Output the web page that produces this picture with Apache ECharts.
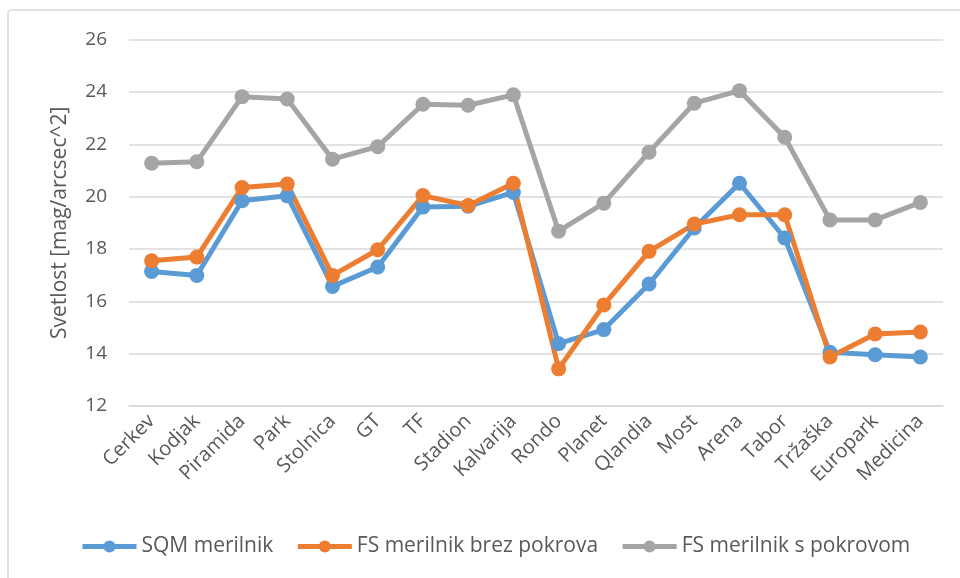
<!DOCTYPE html>
<html>
<head>
<meta charset="utf-8">
<script src="https://cdn.jsdelivr.net/npm/echarts@6/dist/echarts.min.js"></script>
<style>
  html, body { margin: 0; padding: 0; background: #fff; }
  #chart { width: 960px; height: 578px; }
</style>
</head>
<body>
<div id="chart"></div>
<script>
const locations = ["Cerkev", "Kodjak", "Piramida", "Park", "Stolnica", "GT", "TF", "Stadion", "Kalvarija",
  "Rondo", "Planet", "Qlandia", "Most", "Arena", "Tabor", "Tržaška", "Europark", "Medicina"];

const sqm = [17.14, 16.99, 19.84, 20.03, 16.57, 17.31, 19.60, 19.63, 20.16,
  14.38, 14.92, 16.66, 18.80, 20.51, 18.42, 14.05, 13.96, 13.87];
const fsNoCover = [17.55, 17.69, 20.35, 20.48, 16.99, 17.97, 20.04, 19.66, 20.51,
  13.42, 15.86, 17.91, 18.95, 19.31, 19.31, 13.87, 14.75, 14.83];
const fsCover = [21.28, 21.33, 23.82, 23.73, 21.43, 21.91, 23.53, 23.49, 23.89,
  18.68, 19.75, 21.70, 23.57, 24.05, 22.27, 19.11, 19.11, 19.78];

const seriesNames = ["SQM merilnik", "FS merilnik brez pokrova", "FS merilnik s pokrovom"];
const colors = ["#5B9BD5", "#ED7D31", "#A5A5A5"];

const font = "'Open Sans', 'Liberation Sans', sans-serif";
const textColor = "#595959";

const chart = echarts.init(document.querySelector("#chart"), null, { renderer: "canvas" });

function lineSeries(name, data) {
  return {
    name,
    type: "line",
    data,
    symbol: "circle",
    symbolSize: 15,
    lineStyle: { width: 5 },
    emphasis: { disabled: true },
  };
}

chart.setOption({
  animation: false,
  color: colors,
  textStyle: { fontFamily: font },
  graphic: [
    {
      type: "rect",
      shape: { x: 8, y: 10, width: 1000, height: 600, r: 4 },
      style: { fill: "none", stroke: "#d9d9d9", lineWidth: 1.5 },
      silent: true,
    },
  ],
  grid: { left: 129, right: 17, top: 39.6, bottom: 172 },
  legend: {
    bottom: 16,
    left: 75,
    itemWidth: 54,
    itemHeight: 15,
    itemGap: 22,
    lineStyle: { width: 5 },
    textStyle: { fontSize: 21, color: textColor, fontFamily: font },
    data: seriesNames,
  },
  xAxis: {
    type: "category",
    data: locations,
    boundaryGap: true,
    axisLine: { show: true, lineStyle: { color: "#d9d9d9", width: 1.5 } },
    axisTick: { show: false },
    axisLabel: {
      rotate: 45,
      interval: 0,
      margin: 12,
      fontSize: 20,
      color: textColor,
      fontFamily: font,
    },
  },
  yAxis: {
    type: "value",
    min: 12,
    max: 26,
    interval: 2,
    name: "Svetlost [mag/arcsec^2]",
    nameLocation: "middle",
    nameGap: 58,
    nameTextStyle: { fontSize: 21, color: textColor, fontFamily: font },
    axisLine: { show: false },
    axisTick: { show: false },
    axisLabel: { fontSize: 19, color: textColor, margin: 22, fontFamily: font },
    splitLine: { lineStyle: { color: "#d9d9d9", width: 1.5 } },
  },
  series: [
    lineSeries(seriesNames[0], sqm),
    lineSeries(seriesNames[1], fsNoCover),
    lineSeries(seriesNames[2], fsCover),
  ],
});
</script>
</body>
</html>
